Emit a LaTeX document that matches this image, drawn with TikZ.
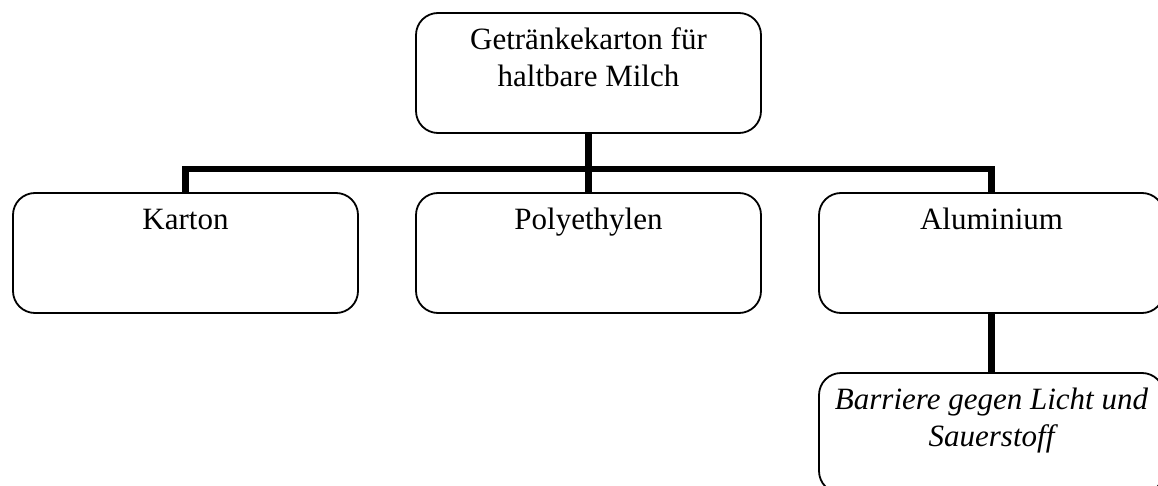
\documentclass[tikz,border=0pt]{standalone}
\usepackage{fontspec}
\setmainfont{Liberation Serif}
\begin{document}
\begin{tikzpicture}[x=1pt,y=-1pt,
  box/.style={draw, line width=1.8pt, rounded corners=22pt,
    minimum width=345pt, minimum height=120pt, inner sep=0pt},
  boxtext/.style={anchor=north, inner sep=0pt, align=center,
    font=\fontsize{31}{37}\selectfont, yshift=-13pt},
  conn/.style={line width=6.5pt, line join=miter}]
  \clip (0,0) rectangle (1158,486);
  \fill[white] (0,0) rectangle (1158,486);

  % boxes
  \node[box] (top)   at (588.5,73)  {};
  \node[box] (karton) at (185.5,253) {};
  \node[box] (poly)  at (588.5,253) {};
  \node[box] (alu)   at (991.5,253) {};
  \node[box] (barr)  at (991.5,433) {};

  % labels, set from the top of each box
  \node[boxtext] (top-t)    at (top.north)    {\rule{0pt}{24pt}Getränkekarton für\\haltbare Milch};
  \node[boxtext] (karton-t) at (karton.north) {\rule{0pt}{24pt}Karton};
  \node[boxtext] (poly-t)   at (poly.north)   {\rule{0pt}{24pt}Polyethylen};
  \node[boxtext] (alu-t)    at (alu.north)    {\rule{0pt}{24pt}Aluminium};
  \node[boxtext, font=\fontsize{31}{37}\selectfont\itshape] (barr-t) at (barr.north)
    {\rule{0pt}{24pt}Barriere gegen Licht und\\Sauerstoff};

  % connectors
  \coordinate (junction) at (588.5,169);
  \draw[conn] (top.south) -- (junction);
  \draw[conn] (karton.north) |- (junction) -| (alu.north);
  \draw[conn] (junction) -- (poly.north);
  \draw[conn] (alu.south) -- (barr.north);
\end{tikzpicture}
\end{document}
